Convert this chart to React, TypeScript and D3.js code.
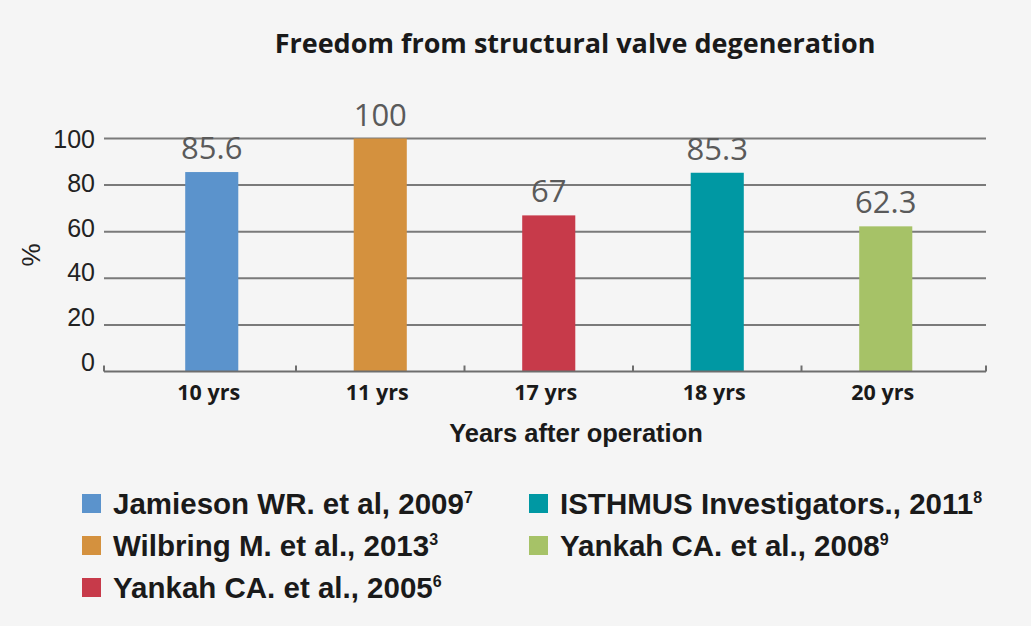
import * as d3 from "d3";
import type { JSX } from "react";

const categories = ["10 yrs", "11 yrs", "17 yrs", "18 yrs", "20 yrs"];
const values = [85.6, 100, 67, 85.3, 62.3];
const colors = ["#5b93cc", "#d4913e", "#c73a4a", "#0098a3", "#a6c267"];
const studies = [
  "Jamieson WR. et al, 2009",
  "Wilbring M. et al., 2013",
  "Yankah CA. et al., 2005",
  "ISTHMUS Investigators., 2011",
  "Yankah CA. et al., 2008",
];
const refs = ["7", "3", "6", "8", "9"];
const yTicks = [0, 20, 40, 60, 80, 100];

const W = 1031;
const H = 626;
const SANS = "'Liberation Sans', Arial, Helvetica, sans-serif";
const OPEN = "'Open Sans', 'Noto Sans', sans-serif";

export default function App(): JSX.Element {
  const axisLeft = 104;
  const axisRight = 986;
  const y = d3.scaleLinear().domain([0, 100]).range([371.5, 138.5]);
  const x = d3.scaleBand().domain(categories).range([127.5, 970]);
  const barW = x.bandwidth() * 0.315;

  const tickXs = [
    axisLeft,
    ...categories.slice(1).map((c) => x(c)!),
    axisRight,
  ];

  // legend: first three in left column, rest in right
  const legendPos = studies.map((_, i) => ({
    x: i < 3 ? 82 : 529,
    y: 494 + (i < 3 ? i : i - 3) * 42,
  }));

  return (
    <svg
      width={W}
      height={H}
      style={{ position: "absolute", left: 0, top: 0, background: "#f5f5f5" }}
    >
      <rect width={W} height={H} fill="#f5f5f5" />
      <text
        x={575}
        y={53}
        textAnchor="middle"
        fontFamily={OPEN}
        fontWeight={700}
        fontSize={27}
        fill="#1a1a1a"
      >
        Freedom from structural valve degeneration
      </text>

      {/* gridlines */}
      {yTicks.slice(1).map((t) => (
        <line
          key={t}
          x1={axisLeft}
          x2={axisRight}
          y1={y(t)}
          y2={y(t)}
          stroke="#7a7a7a"
          strokeWidth={2}
        />
      ))}
      {yTicks.map((t) => (
        <text
          key={"l" + t}
          x={95}
          y={y(t) - (100 - t) * 0.1}
          dy="0.36em"
          textAnchor="end"
          fontFamily={SANS}
          fontSize={25}
          fill="#222"
        >
          {t}
        </text>
      ))}
      <text
        transform="translate(40,255) rotate(-90)"
        textAnchor="middle"
        fontFamily={SANS}
        fontSize={26}
        fill="#222"
      >
        %
      </text>

      {/* bars */}
      {categories.map((c, i) => {
        const cx = x(c)! + x.bandwidth() / 2;
        return (
          <g key={c}>
            <rect
              x={cx - barW / 2}
              y={y(values[i])}
              width={barW}
              height={y(0) - y(values[i])}
              fill={colors[i]}
            />
            <text
              x={cx}
              y={y(values[i]) - 13}
              textAnchor="middle"
              fontFamily={OPEN}
              fontSize={31}
              fill="#5a5a5a"
            >
              {values[i]}
            </text>
            <text
              x={cx - 3}
              y={400}
              textAnchor="middle"
              fontFamily={OPEN}
              fontWeight={700}
              fontSize={21.5}
              fill="#1a1a1a"
            >
              {c}
            </text>
          </g>
        );
      })}

      {/* baseline + ticks */}
      <line
        x1={axisLeft}
        x2={axisRight}
        y1={y(0)}
        y2={y(0)}
        stroke="#6e6e6e"
        strokeWidth={2}
      />
      {tickXs.map((tx, i) => (
        <line
          key={"t" + i}
          x1={tx}
          x2={tx}
          y1={y(0)}
          y2={y(0) - 6}
          stroke="#6e6e6e"
          strokeWidth={2}
        />
      ))}
      <text
        x={576}
        y={442}
        textAnchor="middle"
        fontFamily={SANS}
        fontWeight={700}
        fontSize={25.5}
        fill="#1a1a1a"
      >
        Years after operation
      </text>

      {/* legend */}
      {studies.map((s, i) => (
        <g key={s} transform={`translate(${legendPos[i].x},${legendPos[i].y})`}>
          <rect width={19} height={19} fill={colors[i]} />
          <text
            x={31}
            y={20}
            fontFamily={SANS}
            fontWeight={700}
            fontSize={29.5}
            fill="#1a1a1a"
          >
            {s}
            <tspan fontSize={16} dy={-11}>
              {refs[i]}
            </tspan>
          </text>
        </g>
      ))}
    </svg>
  );
}
